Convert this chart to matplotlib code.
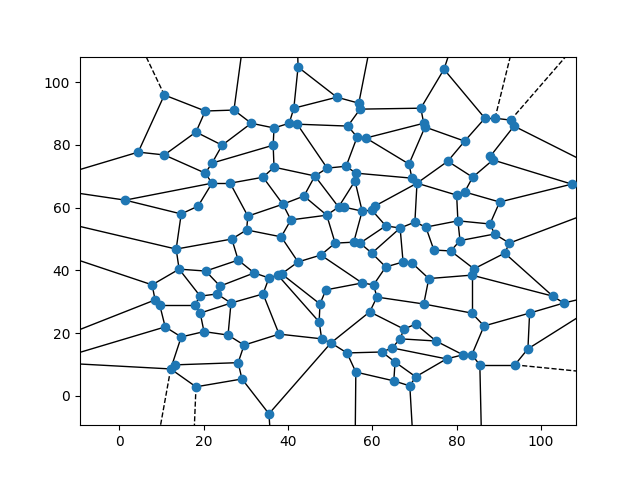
import matplotlib
matplotlib.use("Agg")
import matplotlib.pyplot as plt
from matplotlib.collections import LineCollection

# Voronoi vertices
vid = ["P1","P2","P3","P4","P5","P6","P7","P8","P9","P10",
       "P11","P12","P13","P14","P15","P16","P17","P18","P19","P20",
       "P21","P22","P23","P24","P25","P26","P27","P27b","P28","P29",
       "P30","P31","P32","P33","P34","P36","P37","P38","P39","P40",
       "P41","P42","P43","P44","P45","P46","P47","P48","P49","P50",
       "P51","P52","P53","P54","P55","P56","P57","P58","P59","P60",
       "P61","P62","P63","P64","P65","P66","P67","P68","P69","P70",
       "P71","P72","P73","P74","P75","P76","P77","P78","P79","P80",
       "P81","P81b","P82","P83","P83b","P84","P85","P86","P87","P88",
       "P89","P89b","P90","P91","P92","P93","P94","P95","P96","P97",
       "P98","P99","P100","P101","P101b","P102","P103","P104","P105","P106",
       "P107","P108","P109","P109b","P110","P111","P112","P113","P114","P115",
       "P116","P117","P118","P119","P120","P121","P122","P123","P124","P125",
       "P126","P127","P128","P129","P130","P131","P132","P133","P134","P135",
       "P136","P137","P138","P139","P140","P141","P142","P143","P144","P145",
       "P145b","P146","P147","P148"]
vx = [10.7, 20.4, 18.2, 4.5, 10.7, 20.4, 27.2, 31.3, 36.7, 40.3,
      42.2, 41.4, 42.4, 36.5, 22.0, 24.4, 36.7, 34.1, 46.4, 49.3,
      22.0, 26.3, 51.6, 56.8, 57.1, 54.2, 56.4, 58.5, 71.5, 77.0,
      72.2, 72.5, 68.7, 53.8, 69.4, 56.1, 55.9, 70.6, 86.7, 89.1,
      92.8, 93.6, 81.9, 88.0, 88.6, 77.9, 83.8, 107.3, 1.4, 14.7,
      18.7, 13.5, 14.2, 20.5, 7.8, 8.5, 9.6, 17.9, 19.2, 38.8,
      43.8, 49.2, 30.5, 40.7, 30.2, 26.7, 38.4, 42.4, 47.8, 28.2,
      32.0, 35.5, 37.6, 38.5, 23.9, 23.2, 34.1, 26.5, 47.6, 49.0,
      52.0, 53.2, 57.6, 59.9, 60.6, 63.2, 66.6, 70.1, 72.7, 51.2,
      55.6, 57.1, 59.9, 63.2, 67.3, 69.4, 74.6, 78.6, 73.4, 57.6,
      60.3, 61.1, 72.2, 80.0, 81.9, 90.2, 80.3, 87.9, 89.0, 80.8,
      92.5, 91.4, 84.1, 83.6, 102.8, 105.4, 83.6, 97.3, 86.5, 77.6,
      81.5, 83.6, 85.5, 93.8, 96.9, 59.4, 70.3, 67.5, 66.6, 75.1,
      50.2, 54.0, 62.3, 64.7, 65.4, 56.1, 65.1, 70.3, 68.9, 20.1,
      25.8, 29.6, 37.9, 48.0, 28.2, 29.1, 35.5, 10.9, 14.7, 12.2,
      13.2, 18.2, 19.2, 47.4]
vy = [95.9, 90.8, 84.1, 77.7, 76.8, 71.0, 91.1, 86.9, 85.4, 86.9,
      86.6, 91.7, 104.8, 79.9, 74.2, 79.9, 72.9, 69.7, 70.1, 72.6,
      67.8, 67.8, 95.2, 93.3, 91.4, 86.0, 82.5, 82.2, 91.7, 104.1,
      86.9, 85.7, 73.9, 73.2, 69.4, 71.0, 68.5, 67.8, 88.5, 88.5,
      87.9, 86.0, 81.2, 76.4, 75.2, 74.8, 69.7, 67.5, 62.4, 58.0,
      60.5, 46.8, 40.4, 39.8, 35.4, 30.6, 29.0, 29.0, 31.8, 61.1,
      63.7, 57.6, 57.3, 56.1, 52.9, 50.0, 50.7, 42.7, 44.9, 43.3,
      39.2, 37.6, 38.5, 38.9, 35.0, 32.5, 32.5, 29.6, 29.3, 33.8,
      60.2, 60.2, 58.9, 59.2, 60.5, 54.2, 53.5, 55.4, 53.8, 48.7,
      49.0, 48.7, 45.5, 41.1, 42.7, 42.4, 46.5, 46.2, 37.4, 36.0,
      35.4, 31.5, 29.3, 64.0, 65.0, 61.8, 55.8, 54.8, 51.6, 49.5,
      48.7, 45.5, 40.5, 38.5, 31.8, 29.6, 26.4, 26.4, 22.3, 11.8,
      13.1, 13.1, 9.9, 9.9, 15.0, 26.8, 22.9, 21.3, 18.2, 17.5,
      16.9, 13.7, 14.0, 15.3, 10.8, 7.6, 4.8, 6.1, 3.2, 20.5,
      19.4, 16.2, 19.7, 18.2, 10.6, 5.4, -5.7, 22.0, 18.8, 8.6,
      9.9, 2.9, 26.4, 23.6]

# finite ridges (pairs of vertices)
ridges = [("P1","P2"),("P1","P4"),("P2","P3"),("P2","P7"),("P3","P5"),("P3","P16"),
          ("P4","P5"),("P5","P6"),("P6","P15"),("P6","P21"),("P7","P8"),("P8","P9"),
          ("P8","P16"),("P9","P10"),("P9","P14"),("P10","P11"),("P10","P12"),("P11","P26"),
          ("P11","P20"),("P12","P13"),("P12","P23"),("P13","P23"),("P14","P15"),("P14","P17"),
          ("P15","P16"),("P17","P18"),("P17","P19"),("P18","P22"),("P18","P60"),("P19","P20"),
          ("P19","P81"),("P20","P33"),("P21","P22"),("P21","P49"),("P22","P63"),("P23","P24"),
          ("P24","P25"),("P25","P26"),("P25","P28"),("P26","P27"),("P27","P27b"),("P27","P33"),
          ("P27b","P30"),("P27b","P32"),("P28","P29"),("P28","P30"),("P29","P39"),("P30","P31"),
          ("P31","P32"),("P31","P43"),("P32","P34"),("P33","P36"),("P34","P36"),("P34","P38"),
          ("P36","P37"),("P37","P81"),("P37","P82"),("P38","P46"),("P38","P86"),("P38","P101"),
          ("P83b","P38"),("P39","P40"),("P39","P43"),("P40","P41"),("P41","P42"),("P42","P44"),
          ("P43","P46"),("P44","P45"),("P45","P47"),("P45","P48"),("P46","P47"),("P47","P101b"),
          ("P48","P102"),("P49","P50"),("P50","P51"),("P50","P52"),("P51","P21"),("P52","P53"),
          ("P52","P66"),("P53","P54"),("P53","P55"),("P53","P59"),("P55","P56"),("P56","P57"),
          ("P57","P58"),("P57","P143"),("P58","P59"),("P58","P147"),("P59","P76"),("P60","P61"),
          ("P60","P63"),("P60","P64"),("P61","P62"),("P61","P19"),("P62","P64"),("P62","P81"),
          ("P62","P88"),("P63","P65"),("P64","P67"),("P65","P66"),("P65","P67"),("P66","P70"),
          ("P67","P68"),("P68","P69"),("P68","P74"),("P69","P88"),("P69","P97"),("P70","P54"),
          ("P70","P71"),("P71","P72"),("P71","P75"),("P72","P73"),("P73","P74"),("P72","P77"),
          ("P74","P79"),("P73","P148"),("P75","P54"),("P75","P76"),("P76","P78"),("P77","P78"),
          ("P77","P138"),("P78","P136"),("P78","P147"),("P79","P148"),("P79","P80"),("P80","P97"),
          ("P81","P81b"),("P81b","P82"),("P82","P89"),("P82","P83"),("P83","P83b"),("P83","P84"),
          ("P84","P85"),("P84","P89b"),("P85","P86"),("P85","P92"),("P85","P90"),("P86","P87"),
          ("P87","P94"),("P87","P103"),("P88","P89"),("P89","P89b"),("P89b","P90"),("P90","P91"),
          ("P91","P92"),("P91","P98"),("P92","P93"),("P93","P96"),("P94","P95"),("P95","P106"),
          ("P95","P109"),("P96","P100"),("P96","P109b"),("P97","P98"),("P98","P99"),("P99","P100"),
          ("P99","P121"),("P100","P112"),("P101","P101b"),("P101","P103"),("P101b","P102"),("P102","P104"),
          ("P103","P104"),("P103","P106"),("P104","P105"),("P105","P106"),("P105","P107"),("P107","P108"),
          ("P108","P109"),("P108","P110"),("P109","P109b"),("P109b","P110"),("P109b","P112"),("P110","P111"),
          ("P111","P113"),("P112","P114"),("P113","P114"),("P113","P120"),("P114","P117"),("P116","P117"),
          ("P115","P116"),("P125","P116"),("P115","P129"),("P115","P133"),("P117","P118"),("P118","P119"),
          ("P119","P120"),("P121","P123"),("P121","P126"),("P122","P123"),("P122","P125"),("P123","P124"),
          ("P124","P125"),("P124","P129"),("P128","P129"),("P127","P128"),("P126","P127"),("P127","P131"),
          ("P128","P130"),("P130","P132"),("P130","P133"),("P131","P132"),("P132","P134"),("P133","P134"),
          ("P126","P139"),("P139","P148"),("P139","P138"),("P142","P126"),("P135","P136"),("P135","P144"),
          ("P135","P147"),("P136","P137"),("P137","P138"),("P137","P140"),("P140","P141"),("P140","P145b"),
          ("P141","P146"),("P141","P142"),("P143","P144"),("P144","P145"),("P145","P145b"),("P145","P146")]

# ridges leaving the view to vertices outside it (solid)
out_from = ["P4","P49","P52","P55","P56","P143","P145","P7","P13","P24","P29",
            "P42","P48","P107","P111","P120","P118","P131","P134","P142"]
out_x = [-23.9, -20.8, -21.3, -20.2, -20.6, -20.0, -20.7, 29.8, 42.1, 60.1, 81.4,
         115.5, 115.0, 116.1, 117.8, 113.2, 86.0, 55.9, 69.9, 36.2]
out_y = [66.3, 66.8, 57.8, 48.0, 15.2, 9.6, 11.0, 116.9, 120.0, 115.8, 122.0,
         71.2, 68.0, 60.7, 33.6, 28.8, -20.0, -20.0, -20.0, -20.0]

# infinite ridges (dashed)
inf_from = ["P1","P40","P41","P119","P145","P146"]
inf_x = [1.7, 94.9, 112.8, 115.4, 8.3, 17.5]
inf_y = [121.3, 120.0, 118.9, 7.0, -20.5, -20.0]

pos = {k: (x, y) for k, x, y in zip(vid, vx, vy)}

fig, ax = plt.subplots(figsize=(6.4, 4.78), dpi=100)
ax.plot(vx, vy, 'o', zorder=3)

finite = [[pos[a], pos[b]] for a, b in ridges]
finite += [[pos[a], (x, y)] for a, x, y in zip(out_from, out_x, out_y)]
ax.add_collection(LineCollection(finite, colors='k', lw=1.0, linestyle='solid'))
infinite = [[pos[a], (x, y)] for a, x, y in zip(inf_from, inf_x, inf_y)]
ax.add_collection(LineCollection(infinite, colors='k', lw=1.0, linestyle='dashed'))

ax.set_xlim(-9.3, 108.3)
ax.set_ylim(-9.4, 107.9)
fig.savefig("out.png", dpi=100)
